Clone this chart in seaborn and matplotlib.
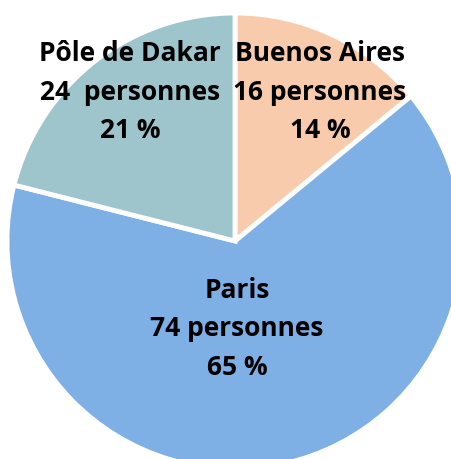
import matplotlib
matplotlib.use("Agg")
import matplotlib.pyplot as plt
import seaborn as sns

sns.set_theme(style="white")
plt.rcParams['font.family'] = ['Open Sans', 'DejaVu Sans']

categories = ["Buenos Aires", "Paris", "Pôle de Dakar"]
values = [16, 74, 24]
colors = ["#F8CBAD", "#7EAFE5", "#9EC5CC"]
count_sep = [" ", " ", "  "]

W, H = 451, 459
fig = plt.figure(figsize=(W / 100, H / 100), dpi=100)
ax = fig.add_axes([0, 0, 1, 1])

cx, cy, r = 235, H - 241, 228
wedges, _ = ax.pie(values, colors=colors, startangle=90, counterclock=False,
                   center=(cx, cy), radius=r, frame=True,
                   wedgeprops=dict(edgecolor="white", linewidth=3.5))
ax.set_xlim(0, W)
ax.set_ylim(0, H)
ax.set_aspect("equal")
ax.axis("off")

total = sum(values)
label_pos = [(320, H - 92), (237, H - 329), (130, H - 92)]
for cat, v, sep, (x, y) in zip(categories, values, count_sep, label_pos):
    pct = round(100 * v / total)
    ax.text(x, y, f"{cat}\n{v}{sep}personnes\n{pct} %", ha="center", va="center",
            fontsize=19, fontweight="bold", color="black", linespacing=1.55,
            fontstretch="condensed")

fig.savefig("out.png", dpi=100)
